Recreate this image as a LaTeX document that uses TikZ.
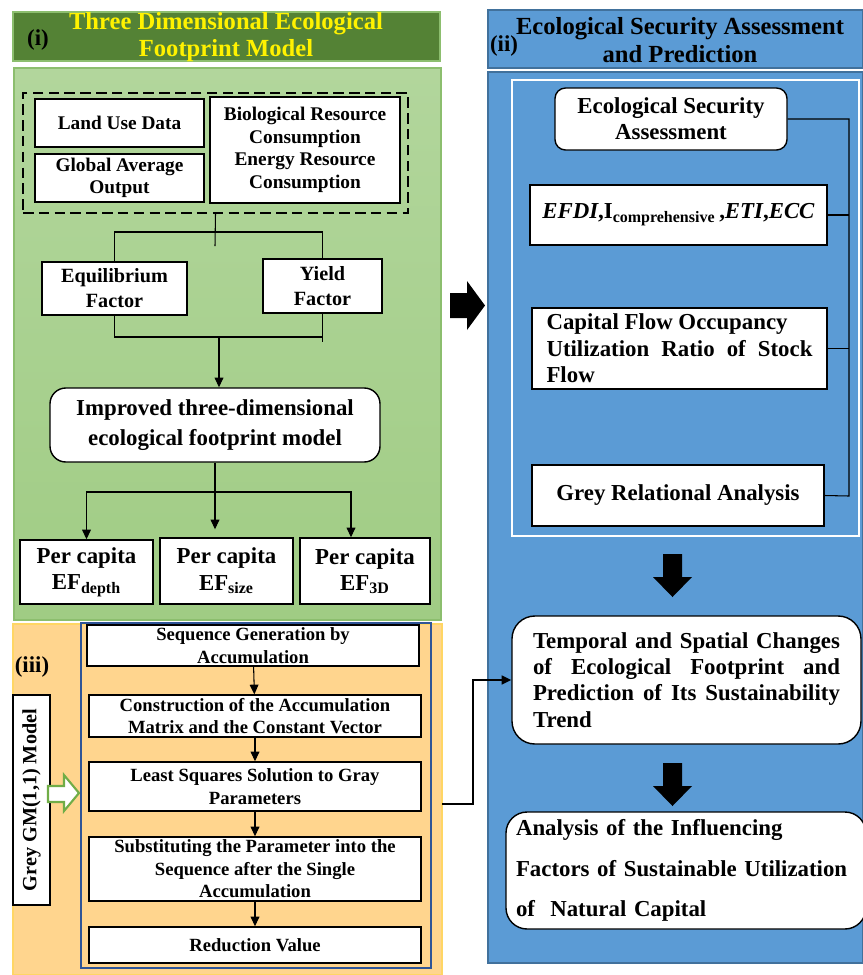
\documentclass[tikz,border=0pt]{standalone}
\usepackage{fontspec}
\setmainfont{Liberation Serif}
\usetikzlibrary{arrows.meta,positioning,calc}
\definecolor{hdrgreen}{RGB}{84,130,53}
\definecolor{pangreentop}{RGB}{178,214,156}
\definecolor{pangreen}{RGB}{160,204,132}
\definecolor{edgegreen}{RGB}{140,190,110}
\definecolor{panorange}{RGB}{255,213,142}
\definecolor{edgeorange}{RGB}{255,214,100}
\definecolor{panblue}{RGB}{91,155,213}
\definecolor{edgeblue}{RGB}{65,113,156}
\definecolor{navyline}{RGB}{47,85,151}
\definecolor{arrowgreen}{RGB}{112,173,71}
\tikzset{
  corners/.style args={#1/#2/#3/#4}{at={({(#1+#3)/2},{(#2+#4)/2})},
    minimum width={(#3-#1)*0.02cm}, minimum height={(#4-#2)*0.02cm}},
  panel/.style={inner sep=0pt, line width=0.8pt},
  box/.style={draw, fill=white, inner sep=0pt, line width=0.8pt, align=center},
  rbox/.style={box, rounded corners=#1},
  txtS/.style={font=\bfseries\fontsize{10.6}{12.8}\selectfont},
  txtM/.style={font=\bfseries\fontsize{11}{12.8}\selectfont},
  txtL/.style={font=\bfseries\fontsize{13}{15}\selectfont},
  conn/.style={draw, line width=0.6pt},
}
\begin{document}
\begin{tikzpicture}[x=0.02cm,y=-0.02cm,>={Triangle[width=5pt,length=5.5pt]}]
\useasboundingbox (0,0) rectangle (863,975);

% (i) three dimensional ecological footprint model
\node[panel, fill=hdrgreen, draw=edgegreen, corners=13/12/440/61] (hdrI) {};
\node[font=\bfseries\fontsize{14}{15.5}\selectfont, text=yellow, align=center] (ttlI) at (226,37) {Three Dimensional Ecological\\Footprint Model};
\node[font=\bfseries\fontsize{13}{15}\selectfont] (lblI) at (38,40) {(i)};
\node[panel, top color=pangreentop, bottom color=pangreen, draw=edgegreen, corners=14/68/441/620] (panI) {};
\node[panel, draw, dash pattern=on 6pt off 3pt, line width=0.9pt, corners=23/93/408/213] (inputs) {};
\node[box, txtM, corners=35/99/204/147] (land) {Land Use Data};
\node[box, txtM, corners=35/154/204/202] (glob) {Global Average\\Output};
\node[box, txtM, corners=210/97/400/203] (bio) {Biological Resource\\Consumption\\Energy Resource\\Consumption};
\node[box, font=\bfseries\fontsize{11.5}{14.2}\selectfont, corners=42/262/187/315] (eqf) {Equilibrium\\Factor};
\node[box, font=\bfseries\fontsize{11.5}{14.2}\selectfont, corners=263/259/382/313] (yf) {Yield\\Factor};
\node[rbox=9pt, font=\bfseries\fontsize{13}{17}\selectfont, corners=50/388/380/462] (imp) {Improved three-dimensional\\ecological footprint model};
\node[box, txtL, corners=20/540/153/604] (pcd) {Per capita\\EF\textsubscript{depth}};
\node[box, txtL, corners=160/538/293/604] (pcs) {Per capita\\EF\textsubscript{size}};
\node[box, txtL, corners=300/538/430/604] (pct) {Per capita\\EF\textsubscript{3D}};
\coordinate (splitA) at (215,232);
\coordinate (joinA) at (219,337);
\coordinate (splitB) at (215,492);
\coordinate (splitBr) at (351,492);
\draw[conn] (inputs.south) -- (215,246);
\draw[conn] (eqf.north) |- (splitA) -| (yf.north);
\draw[conn] (eqf.south) |- (joinA) -| (yf.south);
\draw[conn] (yf.south) ++(0,28) -- ++(0,-6);
\draw[conn,->] (joinA) -- (joinA |- imp.north);
\draw[conn] (imp.south) -- (splitB);
\draw[conn,->] (splitB) -- ($(imp.south |- pcs.north)+(0,-8)$);
\draw[conn,->] (splitB) -| (pcd.north);
\draw[conn,->] (splitB) -- (splitBr) -- (splitBr |- pct.north);

% (iii) grey model
\node[panel, fill=panorange, draw=edgeorange, corners=13/624/442/975] (panIII) {};
\node[font=\bfseries\fontsize{13}{15}\selectfont] (lblIII) at (32,667) {(iii)};
\node[box, line width=1pt, corners=13/695/50/905] (gm) {};
\node[rotate=90, font=\bfseries\fontsize{11.5}{14}\selectfont] (gmtxt) at (gm.center) {Grey GM(1,1) Model};
\draw[draw=arrowgreen, fill=white, line width=1.2pt] (48,786) -- (64,786) -- (64,775) -- (79,793) -- (64,811) -- (64,802) -- (48,802) -- cycle;
\node[panel, draw=navyline, line width=1.4pt, corners=81/623/431/968] (gmsteps) {};
\node[box, txtS, corners=87/625/419/666] (s1) {Sequence Generation by\\Accumulation};
\node[box, txtS, corners=89/695/421/737] (s2) {Construction of the Accumulation\\Matrix and the Constant Vector};
\node[box, txtS, corners=89/762/421/811] (s3) {Least Squares Solution to Gray\\Parameters};
\node[box, txtS, corners=89/837/421/901] (s4) {Substituting the Parameter into the\\Sequence after the Single\\Accumulation};
\node[box, txtS, corners=89/927/421/963] (s5) {Reduction Value};
\path[->, conn]
(s1) edge (s2)
(s2) edge (s3)
(s3) edge (s4)
(s4) edge (s5);

% big arrow between the panels
\fill (450,293) -- (467,293) -- (467,281) -- (485,305.5) -- (467,330) -- (467,318) -- (450,318) -- cycle;

% (ii) ecological security assessment and prediction
\node[panel, fill=panblue, draw=edgeblue, corners=488/10/863/68] (hdrII) {};
\node[font=\bfseries\fontsize{14}{15.5}\selectfont, align=center] (ttlII) at (680,40) {Ecological Security Assessment\\and Prediction};
\node[font=\bfseries\fontsize{13}{15}\selectfont] (lblII) at (504,46) {(ii)};
\node[panel, fill=panblue, draw=edgeblue, corners=488/72/863/963] (panII) {};
\node[panel, draw=white, line width=1.2pt, corners=512/80/859/536] (assess) {};
\node[rbox=6pt, txtL, corners=555/88/787/150] (esa) {Ecological Security\\Assessment};
\node[box, txtL, corners=530/185/827/245] (efdi) {\textit{EFDI},I\textsubscript{comprehensive}\,,\textit{ETI},\textit{ECC}};
\node[box, txtL, align=justify, text width=5.32cm, corners=532/308/827/389] (cap) {Capital Flow Occupancy\\Utilization Ratio of Stock\linebreak Flow};
\node[box, txtL, corners=532/465/824/526] (gra) {Grey Relational Analysis};
\coordinate (brT) at (849,119);
\coordinate (brB) at (849,496);
\draw[conn] (esa.east) -- (brT) -- (brB) -- (gra.east);
\draw[conn] (efdi.east) -- (efdi.east -| brT);
\draw[conn] (cap.east) -- (cap.east -| brT);
\fill (663,554) -- (682,554) -- (682,577) -- (692,577) -- (672.5,597) -- (653,577) -- (663,577) -- cycle;
\node[rbox=13pt, txtL, align=justify, text width=6.14cm, corners=512/616/861/744] (trend) {Temporal and Spatial Changes\linebreak of Ecological Footprint and\linebreak Prediction of Its Sustainability\linebreak Trend};
\fill (663,763) -- (682,763) -- (682,786) -- (692,786) -- (672.5,806) -- (653,786) -- (663,786) -- cycle;
\node[rbox=12pt, font=\bfseries\fontsize{13}{23}\selectfont, align=left, text width=6.8cm, corners=506/812/866/929] (infl) {Analysis of the Influencing\\Factors of Sustainable Utilization\\of~ Natural Capital};

\coordinate (gmout) at (442,804);
\draw[line width=1.2pt, ->] (gmout) -- ++(31,0) |- (trend.west);
\end{tikzpicture}
\end{document}
